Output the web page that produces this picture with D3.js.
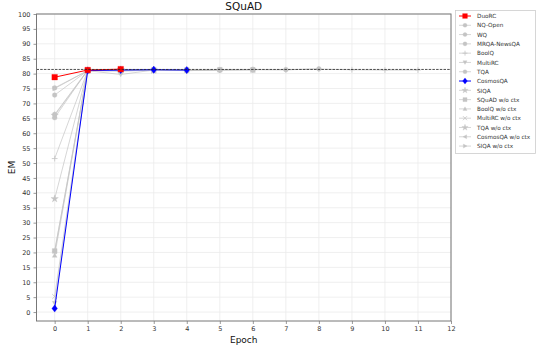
<!DOCTYPE html>
<html><head><meta charset="utf-8">
<script src="https://cdn.jsdelivr.net/npm/d3@7"></script>
<style>body{margin:0;background:#fff;} text{font-family:"DejaVu Sans",sans-serif;}</style>
</head><body><svg id="c" width="538" height="348"></svg>
<script>
const seriesNames = ["DuoRC","NQ-Open","WQ","MRQA-NewsQA","BoolQ","MultiRC","TQA","CosmosQA","SIQA","SQuAD w/o ctx","BoolQ w/o ctx","MultiRC w/o ctx","TQA w/o ctx","CosmosQA w/o ctx","SIQA w/o ctx"];
const seriesMarkers = ["square","circle","circle","octagon","plus","tridown","circle","diamond","star","square","triup","cross","star","trileft","triright"];
const seriesValues = [
  [78.8, 81.2, 81.5],
  [75.2, 81.0, 80.8, 81.2, 81.0, 81.2],
  [72.8, 81.0, 81.3, 81.2, 81.0],
  [66.3, 81.2, 81.0, 81.3, 81.1, 81.3, 81.4],
  [51.5, 81.0, 81.2, 81.3, 81.0, 81.2, 81.3, 81.3, 81.5, 81.3, 81.2, 81.2],
  [3.0, 81.0, 79.7, 81.2],
  [65.2, 81.2, 81.0, 81.2, 81.3, 81.2, 81.4, 81.3, 81.6],
  [1.2, 81.0, 81.2, 81.3, 81.2],
  [38.0, 81.1, 81.3, 81.2],
  [20.5, 81.2, 81.0, 81.3, 81.2, 81.3, 81.2],
  [19.0, 81.1, 81.2, 81.0],
  [5.2, 81.0, 81.2],
  [66.0, 81.0, 81.2, 81.1],
  [20.3, 81.1, 81.0, 81.2],
  [75.0, 81.0, 81.2]
];
const refLine = 81.4;
const xTicks = [0,1,2,3,4,5,6,7,8,9,10,11,12];
const yTicks = d3.range(0,101,5);

const svg = d3.select("#c");
const L=36.5, R=451, T=14, B=321;
const x = d3.scaleLinear().domain([-0.55,12]).range([L,R]);
const y = d3.scaleLinear().domain([-3,100]).range([B,T]);

const g = svg.append("g");
g.selectAll(".gx").data(xTicks).join("line").attr("x1",d=>x(d)).attr("x2",d=>x(d)).attr("y1",T).attr("y2",B).attr("stroke","#ebebeb").attr("stroke-width",0.8);
g.selectAll(".gy").data(yTicks).join("line").attr("x1",L).attr("x2",R).attr("y1",d=>y(d)).attr("y2",d=>y(d)).attr("stroke","#ebebeb").attr("stroke-width",0.8);

function markerPath(type, s){
  const r=s;
  switch(type){
    case "square": return `M${-r},${-r}H${r}V${r}H${-r}Z`;
    case "circle": return d3.symbol(d3.symbolCircle, Math.PI*r*r)();
    case "octagon": return d3.symbol(d3.symbolCircle, Math.PI*r*r)();
    case "diamond": return `M0,${-r*1.3}L${r},0L0,${r*1.3}L${-r},0Z`;
    case "plus": return `M${-r*1.2},0H${r*1.2}M0,${-r*1.2}V${r*1.2}`;
    case "cross": return `M${-r},${-r}L${r},${r}M${-r},${r}L${r},${-r}`;
    case "tridown": return `M${-r},${-r*0.8}L${r},${-r*0.8}L0,${r}Z`;
    case "triup": return `M${-r},${r*0.8}L${r},${r*0.8}L0,${-r}Z`;
    case "trileft": return `M${r*0.8},${-r}L${r*0.8},${r}L${-r},0Z`;
    case "triright": return `M${-r*0.8},${-r}L${-r*0.8},${r}L${r},0Z`;
    case "star": return d3.symbol(d3.symbolStar, r*r*3)();
  }
}
function styleOf(i){
  if(i===0) return {c:"#ff0000", lw:1, ms:2.8, op:1};
  if(i===7) return {c:"#0000ff", lw:1, ms:2.8, op:1};
  return {c:"#c4c4c4", lw:0.7, ms:2.4, op:1};
}
const line = d3.line().x((d,i)=>x(i)).y(d=>y(d));
const order = d3.range(seriesNames.length).filter(i=>i!==0&&i!==7).concat([7,0]);
const pg = svg.append("g");
order.forEach(i=>{
  const st=styleOf(i);
  const gg=pg.append("g");
  gg.append("path").datum(seriesValues[i]).attr("d",line).attr("fill","none").attr("stroke",st.c).attr("stroke-width",st.lw);
  const filled = !["plus","cross"].includes(seriesMarkers[i]);
  gg.selectAll("path.m").data(seriesValues[i]).join("path").attr("class","m")
    .attr("transform",(d,j)=>`translate(${x(j)},${y(d)})`)
    .attr("d",markerPath(seriesMarkers[i],st.ms))
    .attr("fill",filled?st.c:"none").attr("stroke",st.c).attr("stroke-width",filled?0.3:0.8);
});
svg.append("line").attr("x1",L).attr("x2",R).attr("y1",y(refLine)).attr("y2",y(refLine)).attr("stroke","#222").attr("stroke-width",0.8).attr("stroke-dasharray","2.5,1.2");

const xa = svg.append("g").attr("transform",`translate(0,${B})`).call(d3.axisBottom(x).tickValues(xTicks).tickSize(3).tickPadding(2));
const ya = svg.append("g").attr("transform",`translate(${L},0)`).call(d3.axisLeft(y).tickValues(yTicks).tickSize(3).tickPadding(3));
[xa,ya].forEach(a=>{a.select(".domain").remove(); a.selectAll("line").attr("stroke","#555").attr("stroke-width",0.6); a.selectAll("text").attr("font-size","6.5px").attr("fill","#333").attr("font-family","DejaVu Sans");});
svg.append("rect").attr("x",L).attr("y",T).attr("width",R-L).attr("height",B-T).attr("fill","none").attr("stroke","#777").attr("stroke-width",1);

svg.append("text").attr("x",(L+R)/2).attr("y",10).attr("text-anchor","middle").attr("font-size","10.5px").attr("fill","#111").text("SQuAD");
svg.append("text").attr("x",(L+R)/2).attr("y",343).attr("text-anchor","middle").attr("font-size","9px").attr("fill","#111").text("Epoch");
svg.append("text").attr("transform",`translate(15,${(T+B)/2}) rotate(-90)`).attr("text-anchor","middle").attr("font-size","9px").attr("fill","#111").text("EM");

const lg = svg.append("g");
lg.append("rect").attr("x",455.5).attr("y",10.5).attr("width",80).attr("height",143).attr("fill","#fff").attr("stroke","#ccc").attr("stroke-width",0.8);
seriesNames.forEach((n,i)=>{
  const st=styleOf(i); const yy=16+i*9.29;
  lg.append("line").attr("x1",459).attr("x2",471).attr("y1",yy).attr("y2",yy).attr("stroke",st.c).attr("stroke-width",st.lw);
  const filled = !["plus","cross"].includes(seriesMarkers[i]);
  lg.append("path").attr("transform",`translate(465,${yy})`).attr("d",markerPath(seriesMarkers[i],st.ms*0.85)).attr("fill",filled?st.c:"none").attr("stroke",st.c).attr("stroke-width",filled?0.3:0.8);
  lg.append("text").attr("x",477).attr("y",yy+2.2).attr("font-size","5.7px").attr("fill","#333").text(n);
});
</script></body></html>
